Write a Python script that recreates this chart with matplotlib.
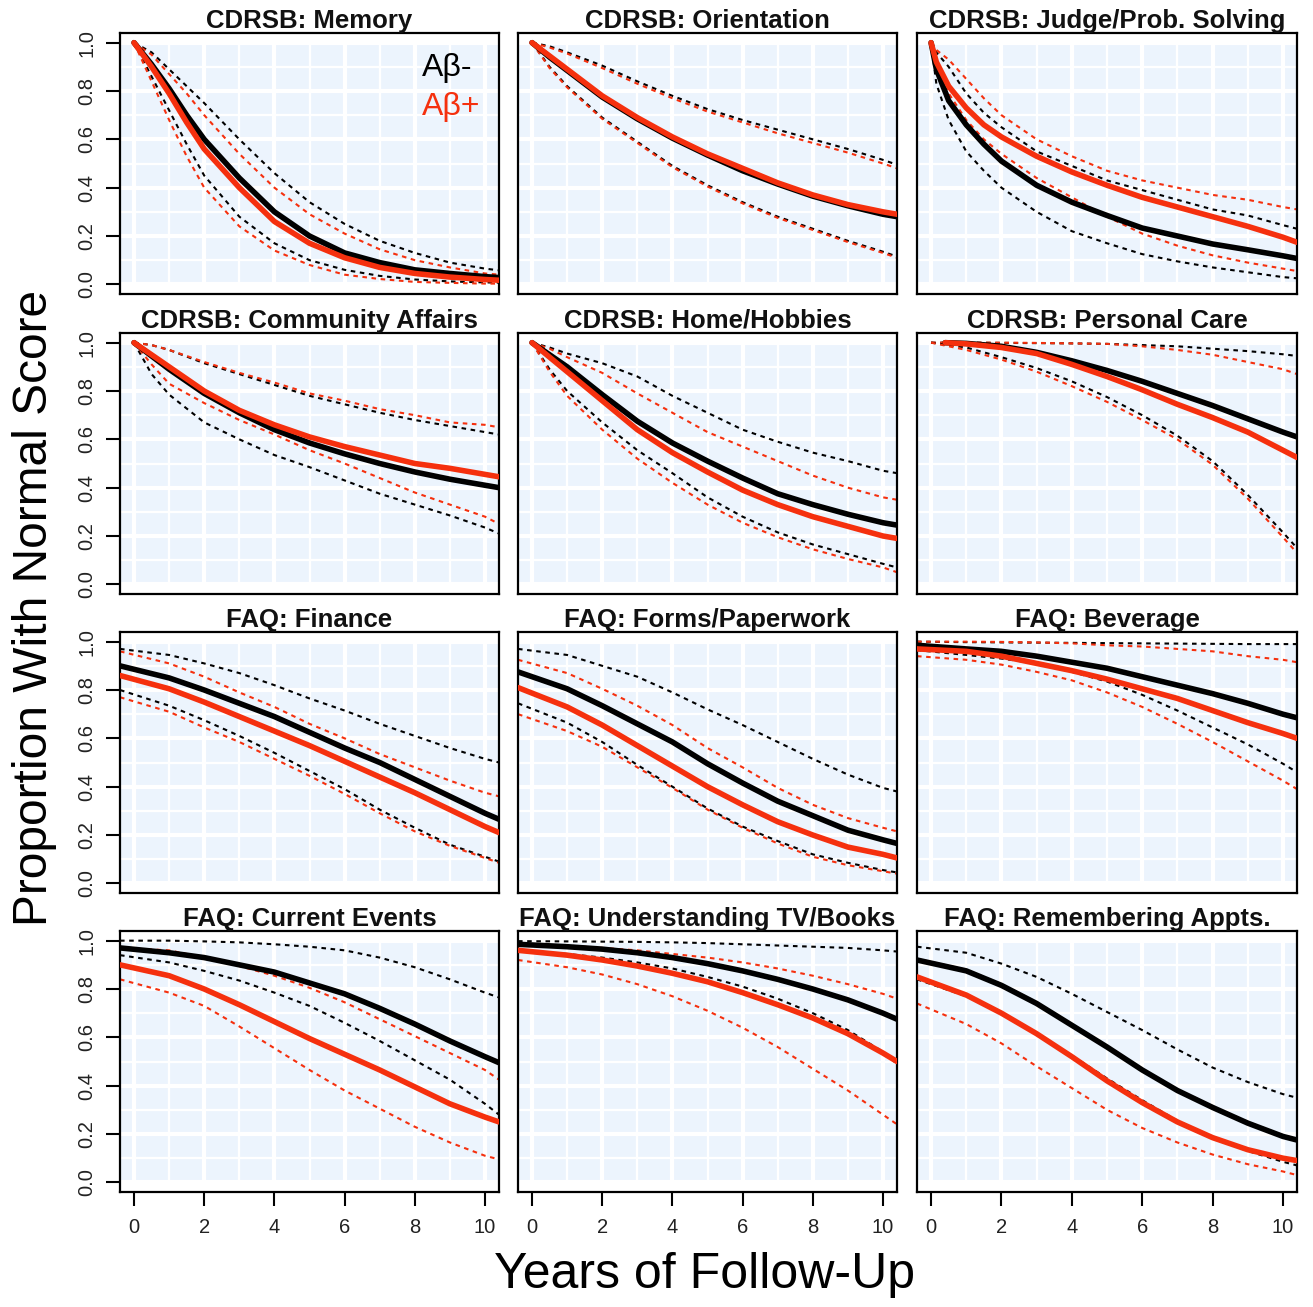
import matplotlib
matplotlib.use('Agg')
import matplotlib.pyplot as plt
from matplotlib.ticker import MultipleLocator

plt.rcParams['font.family'] = ['Liberation Sans', 'DejaVu Sans']

RED = '#f5300e'
BG = '#ecf4fd'

# ---------------- data ----------------
# CDRSB: Memory
mem_t = [0, 0.5, 1, 1.5, 2, 3, 4, 5, 6, 7, 8, 9, 10, 10.4]
mem_neg = [1.0, 0.91, 0.81, 0.70, 0.60, 0.44, 0.30, 0.20, 0.13, 0.09, 0.06, 0.045, 0.032, 0.028]
mem_pos = [1.0, 0.90, 0.79, 0.67, 0.56, 0.40, 0.26, 0.17, 0.11, 0.07, 0.045, 0.03, 0.02, 0.017]
mem_neg_hi = [1.0, 0.96, 0.89, 0.82, 0.75, 0.60, 0.46, 0.34, 0.25, 0.18, 0.13, 0.09, 0.065, 0.058]
mem_pos_hi = [1.0, 0.95, 0.87, 0.79, 0.70, 0.54, 0.40, 0.29, 0.21, 0.145, 0.10, 0.07, 0.045, 0.04]
mem_neg_lo = [1.0, 0.86, 0.72, 0.58, 0.45, 0.28, 0.17, 0.10, 0.06, 0.035, 0.02, 0.012, 0.008, 0.007]
mem_pos_lo = [1.0, 0.84, 0.68, 0.53, 0.40, 0.24, 0.14, 0.08, 0.04, 0.022, 0.01, 0.006, 0.003, 0.003]

# CDRSB: Orientation
ori_t = [0, 0.5, 1, 2, 3, 4, 5, 6, 7, 8, 9, 10, 10.4]
ori_neg = [1.0, 0.94, 0.885, 0.775, 0.685, 0.605, 0.535, 0.47, 0.415, 0.365, 0.325, 0.29, 0.28]
ori_pos = [1.0, 0.945, 0.89, 0.78, 0.69, 0.61, 0.54, 0.48, 0.42, 0.37, 0.33, 0.30, 0.29]
ori_neg_hi = [1.0, 0.985, 0.96, 0.905, 0.84, 0.78, 0.725, 0.68, 0.64, 0.60, 0.56, 0.515, 0.495]
ori_pos_hi = [1.0, 0.98, 0.955, 0.895, 0.83, 0.77, 0.715, 0.67, 0.625, 0.585, 0.545, 0.50, 0.48]
ori_neg_lo = [1.0, 0.90, 0.82, 0.69, 0.59, 0.49, 0.41, 0.34, 0.28, 0.23, 0.18, 0.135, 0.115]
ori_pos_lo = [1.0, 0.895, 0.815, 0.685, 0.585, 0.485, 0.405, 0.335, 0.275, 0.225, 0.175, 0.13, 0.11]

# CDRSB: Judge/Prob. Solving
jud_t = [0, 0.15, 0.5, 1, 1.5, 2, 3, 4, 5, 6, 7, 8, 9, 10, 10.4]
jud_neg = [1.0, 0.89, 0.76, 0.66, 0.58, 0.51, 0.41, 0.34, 0.285, 0.233, 0.20, 0.167, 0.143, 0.118, 0.107]
jud_pos = [1.0, 0.92, 0.82, 0.73, 0.66, 0.61, 0.53, 0.465, 0.41, 0.36, 0.32, 0.28, 0.24, 0.195, 0.174]
jud_neg_hi = [1.0, 0.96, 0.90, 0.79, 0.71, 0.65, 0.55, 0.49, 0.43, 0.39, 0.35, 0.31, 0.285, 0.245, 0.23]
jud_pos_hi = [1.0, 0.97, 0.93, 0.85, 0.77, 0.70, 0.60, 0.53, 0.47, 0.43, 0.40, 0.37, 0.35, 0.32, 0.31]
jud_neg_lo = [1.0, 0.83, 0.68, 0.55, 0.47, 0.40, 0.30, 0.22, 0.17, 0.125, 0.095, 0.07, 0.05, 0.03, 0.025]
jud_pos_lo = [1.0, 0.90, 0.79, 0.68, 0.60, 0.54, 0.44, 0.36, 0.28, 0.21, 0.16, 0.12, 0.09, 0.065, 0.055]

# CDRSB: Community Affairs
com_t = [0, 0.5, 1, 2, 3, 4, 5, 6, 7, 8, 9, 10, 10.4]
com_neg = [1.0, 0.945, 0.89, 0.79, 0.71, 0.64, 0.585, 0.54, 0.50, 0.465, 0.435, 0.41, 0.40]
com_pos = [1.0, 0.95, 0.90, 0.80, 0.72, 0.66, 0.61, 0.57, 0.535, 0.50, 0.48, 0.455, 0.445]
com_neg_hi = [1.0, 0.99, 0.97, 0.915, 0.87, 0.825, 0.78, 0.745, 0.71, 0.68, 0.655, 0.63, 0.62]
com_pos_hi = [1.0, 0.99, 0.97, 0.92, 0.875, 0.835, 0.79, 0.76, 0.725, 0.70, 0.67, 0.66, 0.65]
com_neg_lo = [1.0, 0.87, 0.785, 0.67, 0.60, 0.535, 0.485, 0.43, 0.375, 0.33, 0.285, 0.235, 0.21]
com_pos_lo = [1.0, 0.91, 0.83, 0.75, 0.68, 0.62, 0.555, 0.50, 0.44, 0.38, 0.33, 0.28, 0.25]

# CDRSB: Home/Hobbies
hom_t = [0, 0.5, 1, 2, 3, 4, 5, 6, 7, 8, 9, 10, 10.4]
hom_neg = [1.0, 0.95, 0.90, 0.785, 0.675, 0.585, 0.51, 0.44, 0.375, 0.33, 0.29, 0.255, 0.245]
hom_pos = [1.0, 0.94, 0.88, 0.76, 0.64, 0.545, 0.465, 0.39, 0.33, 0.28, 0.24, 0.20, 0.19]
hom_neg_hi = [1.0, 0.98, 0.955, 0.915, 0.86, 0.78, 0.71, 0.64, 0.59, 0.545, 0.51, 0.47, 0.46]
hom_pos_hi = [1.0, 0.975, 0.94, 0.875, 0.79, 0.71, 0.63, 0.57, 0.51, 0.45, 0.40, 0.36, 0.35]
hom_neg_lo = [1.0, 0.89, 0.80, 0.67, 0.555, 0.46, 0.36, 0.28, 0.215, 0.165, 0.125, 0.085, 0.07]
hom_pos_lo = [1.0, 0.88, 0.78, 0.64, 0.52, 0.42, 0.33, 0.255, 0.195, 0.145, 0.105, 0.07, 0.05]

# CDRSB: Personal Care
per_t_mean = [0.4, 1, 2, 3, 4, 5, 6, 7, 8, 9, 10, 10.4]
per_t = [0, 1, 2, 3, 4, 5, 6, 7, 8, 9, 10, 10.4]
per_neg = [1.0, 0.997, 0.985, 0.96, 0.925, 0.885, 0.84, 0.79, 0.74, 0.685, 0.63, 0.61]
per_pos = [1.0, 0.995, 0.98, 0.955, 0.91, 0.86, 0.805, 0.745, 0.69, 0.63, 0.555, 0.525]
per_neg_hi = [1.0, 1.0, 0.999, 0.998, 0.997, 0.995, 0.99, 0.985, 0.975, 0.965, 0.952, 0.945]
per_pos_hi = [1.0, 1.0, 1.0, 0.999, 0.997, 0.995, 0.985, 0.97, 0.95, 0.92, 0.89, 0.87]
per_neg_lo = [1.0, 0.98, 0.94, 0.895, 0.84, 0.775, 0.70, 0.615, 0.51, 0.37, 0.215, 0.15]
per_pos_lo = [1.0, 0.97, 0.93, 0.88, 0.82, 0.755, 0.68, 0.60, 0.495, 0.355, 0.195, 0.13]

# FAQ panels share one time grid
faq_t = [-0.4, 1, 2, 3, 4, 5, 6, 7, 8, 9, 10, 10.4]

fin_neg = [0.90, 0.85, 0.80, 0.745, 0.69, 0.625, 0.56, 0.50, 0.43, 0.36, 0.29, 0.265]
fin_pos = [0.86, 0.805, 0.75, 0.69, 0.63, 0.57, 0.505, 0.44, 0.375, 0.305, 0.235, 0.21]
fin_neg_hi = [0.97, 0.945, 0.91, 0.87, 0.82, 0.765, 0.715, 0.66, 0.61, 0.56, 0.515, 0.50]
fin_pos_hi = [0.96, 0.91, 0.855, 0.79, 0.73, 0.66, 0.60, 0.535, 0.48, 0.425, 0.375, 0.36]
fin_neg_lo = [0.80, 0.735, 0.675, 0.61, 0.54, 0.465, 0.39, 0.305, 0.23, 0.16, 0.11, 0.09]
fin_pos_lo = [0.77, 0.71, 0.645, 0.585, 0.515, 0.445, 0.37, 0.29, 0.215, 0.155, 0.105, 0.085]

frm_neg = [0.875, 0.805, 0.735, 0.66, 0.585, 0.495, 0.415, 0.34, 0.28, 0.22, 0.18, 0.165]
frm_pos = [0.81, 0.73, 0.655, 0.57, 0.485, 0.40, 0.325, 0.255, 0.20, 0.15, 0.12, 0.105]
frm_neg_hi = [0.97, 0.945, 0.90, 0.855, 0.79, 0.72, 0.655, 0.585, 0.515, 0.45, 0.395, 0.38]
frm_pos_hi = [0.925, 0.87, 0.805, 0.735, 0.655, 0.56, 0.48, 0.395, 0.325, 0.27, 0.23, 0.215]
frm_neg_lo = [0.745, 0.665, 0.585, 0.49, 0.40, 0.31, 0.235, 0.175, 0.12, 0.085, 0.055, 0.045]
frm_pos_lo = [0.70, 0.63, 0.565, 0.48, 0.395, 0.305, 0.23, 0.165, 0.11, 0.075, 0.05, 0.04]

bev_neg = [0.985, 0.97, 0.96, 0.94, 0.915, 0.89, 0.855, 0.82, 0.785, 0.745, 0.70, 0.685]
bev_pos = [0.97, 0.96, 0.94, 0.91, 0.88, 0.845, 0.805, 0.765, 0.715, 0.665, 0.62, 0.60]
bev_neg_hi = [1.0, 0.998, 0.997, 0.996, 0.995, 0.994, 0.993, 0.992, 0.991, 0.99, 0.99, 0.99]
bev_pos_hi = [1.0, 1.0, 0.999, 0.997, 0.993, 0.985, 0.98, 0.97, 0.96, 0.94, 0.925, 0.915]
bev_neg_lo = [0.965, 0.945, 0.93, 0.91, 0.875, 0.835, 0.78, 0.715, 0.645, 0.575, 0.495, 0.46]
bev_pos_lo = [0.94, 0.925, 0.905, 0.875, 0.84, 0.79, 0.73, 0.66, 0.585, 0.505, 0.425, 0.39]

cur_neg = [0.97, 0.95, 0.93, 0.90, 0.87, 0.825, 0.78, 0.72, 0.655, 0.585, 0.52, 0.495]
cur_pos = [0.90, 0.855, 0.80, 0.735, 0.665, 0.595, 0.53, 0.465, 0.395, 0.325, 0.27, 0.25]
cur_neg_hi = [1.0, 1.0, 0.997, 0.993, 0.985, 0.975, 0.96, 0.93, 0.89, 0.84, 0.785, 0.765]
cur_pos_hi = [0.97, 0.96, 0.93, 0.895, 0.855, 0.805, 0.745, 0.675, 0.605, 0.535, 0.465, 0.425]
cur_neg_lo = [0.94, 0.91, 0.875, 0.835, 0.785, 0.73, 0.66, 0.585, 0.505, 0.425, 0.325, 0.28]
cur_pos_lo = [0.84, 0.785, 0.73, 0.645, 0.555, 0.465, 0.38, 0.305, 0.23, 0.165, 0.11, 0.095]

tvb_neg = [0.985, 0.975, 0.965, 0.95, 0.93, 0.905, 0.875, 0.84, 0.80, 0.755, 0.70, 0.675]
tvb_pos = [0.96, 0.94, 0.92, 0.895, 0.865, 0.83, 0.785, 0.735, 0.68, 0.615, 0.535, 0.50]
tvb_neg_hi = [0.998, 0.997, 0.996, 0.995, 0.993, 0.99, 0.985, 0.98, 0.975, 0.97, 0.96, 0.955]
tvb_pos_hi = [0.985, 0.98, 0.97, 0.96, 0.945, 0.93, 0.91, 0.885, 0.855, 0.82, 0.78, 0.76]
tvb_neg_lo = [0.96, 0.945, 0.93, 0.91, 0.885, 0.85, 0.81, 0.76, 0.70, 0.63, 0.54, 0.49]
tvb_pos_lo = [0.92, 0.89, 0.86, 0.82, 0.77, 0.71, 0.64, 0.56, 0.47, 0.38, 0.28, 0.24]

rem_neg = [0.92, 0.875, 0.815, 0.74, 0.65, 0.56, 0.465, 0.38, 0.31, 0.245, 0.19, 0.175]
rem_pos = [0.85, 0.775, 0.70, 0.615, 0.52, 0.42, 0.33, 0.25, 0.185, 0.135, 0.10, 0.09]
rem_neg_hi = [0.975, 0.95, 0.905, 0.85, 0.78, 0.705, 0.63, 0.55, 0.475, 0.415, 0.365, 0.35]
rem_pos_hi = [0.925, 0.88, 0.82, 0.745, 0.655, 0.565, 0.47, 0.385, 0.315, 0.25, 0.195, 0.18]
rem_neg_lo = [0.84, 0.77, 0.70, 0.615, 0.525, 0.43, 0.34, 0.255, 0.185, 0.13, 0.085, 0.07]
rem_pos_lo = [0.74, 0.655, 0.575, 0.48, 0.39, 0.30, 0.225, 0.165, 0.115, 0.075, 0.045, 0.03]

titles = ['CDRSB: Memory', 'CDRSB: Orientation', 'CDRSB: Judge/Prob. Solving',
          'CDRSB: Community Affairs', 'CDRSB: Home/Hobbies', 'CDRSB: Personal Care',
          'FAQ: Finance', 'FAQ: Forms/Paperwork', 'FAQ: Beverage',
          'FAQ: Current Events', 'FAQ: Understanding TV/Books', 'FAQ: Remembering Appts.']

x_ticks = [0, 2, 4, 6, 8, 10]
y_ticks = [0.0, 0.2, 0.4, 0.6, 0.8, 1.0]
y_tick_labels = ['0.0', '0.2', '0.4', '0.6', '0.8', '1.0']
legend_labels = ['A\u03b2-', 'A\u03b2+']

# (t_mean, t_ci, neg, pos, neg_hi, pos_hi, neg_lo, pos_lo)
panels = [
    (mem_t, mem_t, mem_neg, mem_pos, mem_neg_hi, mem_pos_hi, mem_neg_lo, mem_pos_lo),
    (ori_t, ori_t, ori_neg, ori_pos, ori_neg_hi, ori_pos_hi, ori_neg_lo, ori_pos_lo),
    (jud_t, jud_t, jud_neg, jud_pos, jud_neg_hi, jud_pos_hi, jud_neg_lo, jud_pos_lo),
    (com_t, com_t, com_neg, com_pos, com_neg_hi, com_pos_hi, com_neg_lo, com_pos_lo),
    (hom_t, hom_t, hom_neg, hom_pos, hom_neg_hi, hom_pos_hi, hom_neg_lo, hom_pos_lo),
    (per_t_mean, per_t, per_neg, per_pos, per_neg_hi, per_pos_hi, per_neg_lo, per_pos_lo),
    (faq_t, faq_t, fin_neg, fin_pos, fin_neg_hi, fin_pos_hi, fin_neg_lo, fin_pos_lo),
    (faq_t, faq_t, frm_neg, frm_pos, frm_neg_hi, frm_pos_hi, frm_neg_lo, frm_pos_lo),
    (faq_t, faq_t, bev_neg, bev_pos, bev_neg_hi, bev_pos_hi, bev_neg_lo, bev_pos_lo),
    (faq_t, faq_t, cur_neg, cur_pos, cur_neg_hi, cur_pos_hi, cur_neg_lo, cur_pos_lo),
    (faq_t, faq_t, tvb_neg, tvb_pos, tvb_neg_hi, tvb_pos_hi, tvb_neg_lo, tvb_pos_lo),
    (faq_t, faq_t, rem_neg, rem_pos, rem_neg_hi, rem_pos_hi, rem_neg_lo, rem_pos_lo),
]

# ---------------- layout ----------------
W, H = 1313, 1307
fig = plt.figure(figsize=(W / 100, H / 100), dpi=100)
fig.patch.set_facecolor('white')

cols = [(120, 499), (518, 897), (917, 1297)]
rows = [(33, 294), (333, 594), (632, 893), (931, 1192)]

dash = (0, (2.2, 2.2))

for i, (title, pdata) in enumerate(zip(titles, panels)):
    r, c = divmod(i, 3)
    l, rr = cols[c]
    t, b = rows[r]
    ax = fig.add_axes([l / W, 1 - b / H, (rr - l) / W, (b - t) / H])
    ax.set_facecolor('white')
    ax.set_xlim(-0.4, 10.4)
    ax.set_ylim(-0.04, 1.04)
    ax.axhspan(0, 1, color=BG, lw=0, zorder=0.1)

    ax.xaxis.set_major_locator(MultipleLocator(2))
    ax.xaxis.set_minor_locator(MultipleLocator(1))
    ax.yaxis.set_major_locator(MultipleLocator(0.2))
    ax.yaxis.set_minor_locator(MultipleLocator(0.1))
    ax.set_axisbelow(True)
    ax.grid(which='major', color='white', lw=3.0, zorder=0.5)
    ax.grid(which='minor', color='white', lw=1.6, zorder=0.5)
    ax.tick_params(which='minor', length=0)

    for s in ax.spines.values():
        s.set_linewidth(1.6)
        s.set_color('black')

    if r == 3:
        ax.set_xticks(x_ticks)
        ax.tick_params(axis='x', which='major', length=10, width=1.5,
                       labelsize=14.5, pad=9, colors='black')
        ax.tick_params(axis='x', labelcolor='#222222')
    else:
        ax.tick_params(axis='x', which='major', length=0, labelbottom=False)
    if c == 0:
        ax.set_yticks(y_ticks)
        ax.set_yticklabels(y_tick_labels, rotation=90, va='center')
        ax.tick_params(axis='y', which='major', length=10, width=1.5,
                       labelsize=14.5, pad=7, labelcolor='#222222')
    else:
        ax.tick_params(axis='y', which='major', length=0, labelleft=False)

    t_mean, t_ci, neg, pos, neg_hi, pos_hi, neg_lo, pos_lo = pdata
    for vals, col in ((neg_hi, 'black'), (pos_hi, RED), (neg_lo, 'black'), (pos_lo, RED)):
        ax.plot(t_ci, vals, color=col, lw=1.5, ls=dash, zorder=2)
    ax.plot(t_mean, neg, color='black', lw=4.0, solid_capstyle='round',
            solid_joinstyle='round', zorder=3)
    ax.plot(t_mean, pos, color=RED, lw=4.0, solid_capstyle='round',
            solid_joinstyle='round', zorder=4)

    ax.set_title(title, fontsize=18.5, fontweight='bold', pad=2, color='#111111')

    if i == 0:
        ax.text(8.2, 0.895, legend_labels[0], fontsize=23, color='black',
                ha='left', va='center')
        ax.text(8.2, 0.735, legend_labels[1], fontsize=23, color=RED,
                ha='left', va='center')

fig.text(35 / W, 1 - 608 / H, 'Proportion With Normal Score', rotation=90,
         fontsize=34.5, ha='center', va='center')
fig.text(705 / W, 1 - 1275 / H, 'Years of Follow-Up', fontsize=36,
         ha='center', va='center')

fig.savefig('out.png', dpi=100)
